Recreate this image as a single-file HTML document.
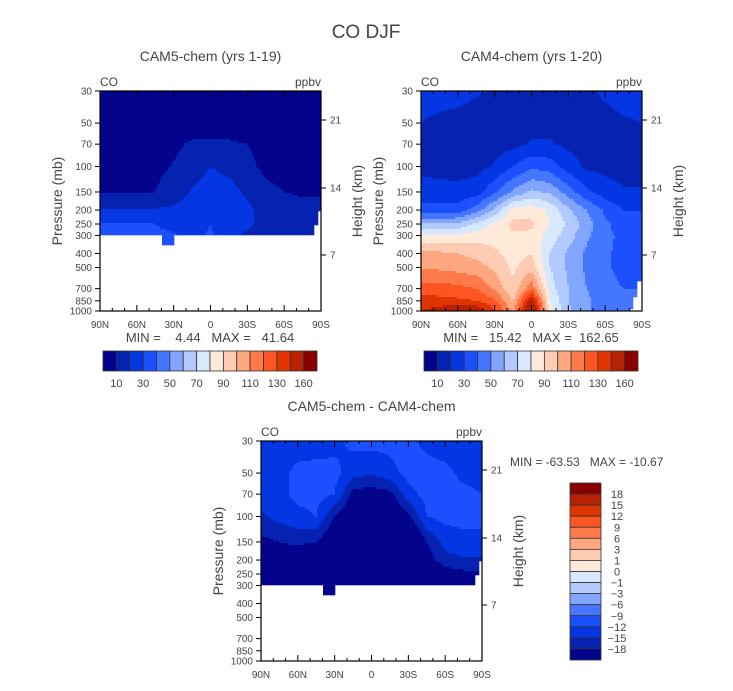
<!DOCTYPE html>
<html><head><meta charset="utf-8"><style>
body{margin:0;background:#fff;}
svg text{font-family:"Liberation Sans",sans-serif;fill:#444;white-space:pre;}
</style></head><body>
<svg id="s" width="733" height="686" xmlns="http://www.w3.org/2000/svg">
<text x="366" y="38" font-size="19" text-anchor="middle">CO DJF</text>
</svg>
<script>
const lats=[90,75,60,45,30,15,0,-15,-30,-45,-60,-75,-90];
const plevs=[30,50,70,100,150,200,250,300,400,500,700,850,1000];
const levelsAbs=[10,20,30,40,50,60,70,80,90,100,110,120,130,140,160];
const levelsDiff=[-18,-15,-12,-9,-6,-3,-1,0,1,3,6,9,12,15,18];
const labelsAbs=['10','30','50','70','90','110','130','160'];
const labelsDiff=['18','15','12','9','6','3','1','0','-1','-3','-6','-9','-12','-15','-18'];
const pTicks=[30,50,70,100,150,200,250,300,400,500,700,850,1000];
const latTicks=['90N','60N','30N','0','30S','60S','90S'];
const hTicks=['21','14','7'];
const cam5=[
[5,5,5,5,5,5,5,5,5,5,5,5,5],
[6,6,6,6,6,6,6,6,6,6,6,6,6],
[7,7,7,7,8.5,11,11.5,11,10,7.5,7,7,7],
[7,7,7,8,10.5,14,20,17,12,8,7,7,7],
[9.5,9.5,9.5,10,14,21,25,24,18,12,10,9,9],
[21,21,21,21,22,25,27,26,22,17,14,12,12],
[31,31,31,30,27,24,30,24,21,18,14,12,12],
[32,32,32,32,31,25,32,22,19,16,13,12,12],
[32,32,32,32,31,25,32,22,19,16,13,12,12],
[32,32,32,32,31,25,32,22,19,16,13,12,12],
[32,32,32,32,31,25,32,22,19,16,13,12,12],
[32,32,32,32,31,25,32,22,19,16,13,12,12],
[32,32,32,32,31,25,32,22,19,16,13,12,12]];
const cam4=[
[24,24,23,21,19,18,18,18,18,19,21,23,24],
[20,18,17,16,16,16,16,16,16,17,18,19,20],
[17,16,16,16,16,17,21,21,18,17,16,16,16],
[17,16,16,17,21,30,38,35,25,18,17,16,16],
[25,24,23,25,38,52,62,58,45,32,25,21,21],
[33,33,35,45,62,84,86,78,62,50,38,30,30],
[62,60,62,72,82,93,92,80,68,55,42,35,35],
[82,80,82,85,86,88,88,75,65,52,42,38,38],
[102,102,100,97,92,86,90,70,58,48,41,38,38],
[108,108,106,104,98,88,96,70,58,48,41,38,38],
[125,125,123,120,108,92,118,75,60,50,42,40,40],
[135,133,132,130,122,98,150,80,60,52,44,42,42],
[140,145,155,150,132,108,162,85,62,52,44,42,42]];
const diff=[
[-14,-14,-14,-14,-13,-11,-11,-11,-11,-13,-14,-14,-14],
[-14,-13,-11,-10.5,-11,-14,-14.5,-13,-11,-10.5,-11,-13,-13.5],
[-14,-13,-11,-11,-12,-19,-20,-19,-13,-11,-10.5,-11,-12],
[-15.5,-14,-13,-12,-18,-22,-25,-23,-19,-12,-11,-11,-11],
[-19,-18,-17,-18,-22,-30,-35,-32,-25,-18,-14,-13,-13],
[-22,-22,-22,-24,-30,-40,-45,-42,-32,-20,-16,-15.5,-15.5],
[-25,-25,-25,-27,-33,-45,-50,-46,-36,-25,-20,-19,-19],
[-26,-26,-26,-28,-34,-46,-52,-48,-38,-27,-22,-20,-20],
[-26,-26,-26,-28,-34,-46,-52,-48,-38,-27,-22,-20,-20],
[-26,-26,-26,-28,-34,-46,-52,-48,-38,-27,-22,-20,-20],
[-26,-26,-26,-28,-34,-46,-52,-48,-38,-27,-22,-20,-20],
[-26,-26,-26,-28,-34,-46,-52,-48,-38,-27,-22,-20,-20],
[-26,-26,-26,-28,-34,-46,-52,-48,-38,-27,-22,-20,-20]];
const colors=['#03038c','#0522b0','#0536e4','#1c50ff','#4576ff','#82a5ff','#b3caff','#d7e8ff','#ffe9d9','#ffcbb3','#ffa880','#ff7a4a','#ff5522','#e03500','#b82200','#8a0000'];

const NS='http://www.w3.org/2000/svg';
const svg=document.getElementById('s');
function mk(tag,attrs,parent){const e=document.createElementNS(NS,tag);for(const k in attrs)e.setAttribute(k,attrs[k]);(parent||svg).appendChild(e);return e;}
function txt(x,y,s,size,anchor,parent,name,rot){const t=mk('text',{x:x,y:y,'font-size':size,'text-anchor':anchor||'middle'},parent);t.textContent=s;


if(rot)t.setAttribute('transform','rotate(-90 '+x+' '+y+')');return t;}
const W=221,H=220;
function yOf(p,y0){return y0+Math.log(p/30)/Math.log(1000/30)*H;}
function sample(grid,lat,p){
  const lp=Math.log(p);let i=0;while(i<plevs.length-2&&Math.log(plevs[i+1])<lp)i++;
  let ty=(lp-Math.log(plevs[i]))/(Math.log(plevs[i+1])-Math.log(plevs[i]));ty=Math.max(0,Math.min(1,ty));
  let fx=(90-lat)/15;let j=Math.max(0,Math.min(11,Math.floor(fx)));let tx=Math.max(0,Math.min(1,fx-j));
  const a=grid[i][j],b=grid[i][j+1],c=grid[i+1][j],d=grid[i+1][j+1];
  return (a*(1-tx)+b*tx)*(1-ty)+(c*(1-tx)+d*tx)*ty;}
function idx(v,lev){let n=0;for(const l of lev)if(v>=l)n++;return n;}
function maskCam5(lat,p){let sp=300;if(lat<=40&&lat>=30)sp=350;if(lat<-84.5)sp=250;if(lat<-87)sp=200;return p>sp;}
function maskCam4(lat,p){if(lat<-85.5&&p>620)return true;if(lat<-83&&p>800)return true;if(lat<-79&&p>980)return true;return false;}

function plot(x0,y0,grid,lev,mask,name,title){
  const g=mk('g',{});
  
  
  const step=2;
  for(let py=0;py<H;py+=step){
    const p=30*Math.exp((py+step/2)/H*Math.log(1000/30));
    const cells=[];
    for(let px=0;px<W;px+=step){
      const lat=90-(px+step/2)/W*180;
      cells.push(mask(lat,p)?null:idx(sample(grid,lat,p),lev));
    }
    let k=0;
    while(k<cells.length){
      let e=k;while(e+1<cells.length&&cells[e+1]===cells[k])e++;
      if(cells[k]!==null){
        const xs=k*step,xe=Math.min(W,(e+1)*step);
        const r=mk('rect',{x:x0+xs,y:y0+py,width:xe-xs+0.3,height:Math.min(step,H-py)+0.3,fill:colors[cells[k]]},g);
        
        
      }
      k=e+1;
    }
  }
  const fr=mk('rect',{x:x0,y:y0,width:W,height:H,fill:'none',stroke:'#000','stroke-width':1.2},g);
  
  
  pTicks.forEach(p=>{const y=yOf(p,y0);mk('line',{x1:x0-5,x2:x0,y1:y,y2:y,stroke:'#000'},g);txt(x0-8,y+3.5,String(p),10,'end',g,'pressure-tick-label');});
  hTicks.forEach((h,k)=>{const y=y0+[29,97,164][k];mk('line',{x1:x0+W,x2:x0+W+5,y1:y,y2:y,stroke:'#000'},g);txt(x0+W+9,y+3.5,h,10,'start',g,'height-tick-label');});
  for(let k=0;k<=18;k++){const x=x0+k*W/18;const len=k%3==0?6:3;
    mk('line',{x1:x,x2:x,y1:y0+H,y2:y0+H-len,stroke:'#000'},g);mk('line',{x1:x,x2:x,y1:y0,y2:y0+len,stroke:'#000'},g);}
  latTicks.forEach((l,k)=>txt(x0+k*W/6,y0+H+17,l,10,'middle',g,'latitude-tick-label'));
  txt(x0,y0-5,'CO',12,'start',g,'variable-label');
  txt(x0+W,y0-5,'ppbv',12,'end',g,'units-label');
  txt(x0+W/2,y0-30,title,14,'middle',g,'panel-title');
  txt(x0-38,y0+H/2,'Pressure (mb)',14,'middle',g,'y-axis-title',true);
  txt(x0+W+41,y0+H/2,'Height (km)',14,'middle',g,'right-axis-title',true);
}
function hbar(x0,y0){const w=214/16;const g=mk('g',{});
  
  
  colors.forEach((c,k)=>mk('rect',{x:x0+k*w,y:y0,width:w,height:20,fill:c,stroke:'#333','stroke-width':0.8},g));
  labelsAbs.forEach((l,k)=>txt(x0+(2*k+1)*w,y0+36,l,11,'middle',g,'colorbar-label'));}
plot(100,91,cam5,levelsAbs,maskCam5,'cam5-panel','CAM5-chem (yrs 1-19)');
txt(210,342,'MIN =    4.44   MAX =   41.64',13,'middle',null,'min-max-label');
hbar(103,351);
plot(421,91,cam4,levelsAbs,maskCam4,'cam4-panel','CAM4-chem (yrs 1-20)');
txt(531,342,'MIN =   15.42   MAX =  162.65',13,'middle',null,'min-max-label');
hbar(424,351);
plot(261,441,diff,levelsDiff,maskCam5,'difference-panel','CAM5-chem - CAM4-chem');
txt(510,466,'MIN = -63.53   MAX = -10.67',12,'start',null,'min-max-label');
(function(){const g=mk('g',{});
  
  
  const h=177/16,x0=570,y0=483;
  for(let k=0;k<16;k++)mk('rect',{x:x0,y:y0+k*h,width:31,height:h,fill:colors[15-k],stroke:'#333','stroke-width':0.8},g);
  labelsDiff.forEach((l,k)=>txt(617,y0+(k+1)*h+4,l.replace('-','\u2212'),11,'middle',g,'colorbar-label'));})();
</script>
</body></html>
